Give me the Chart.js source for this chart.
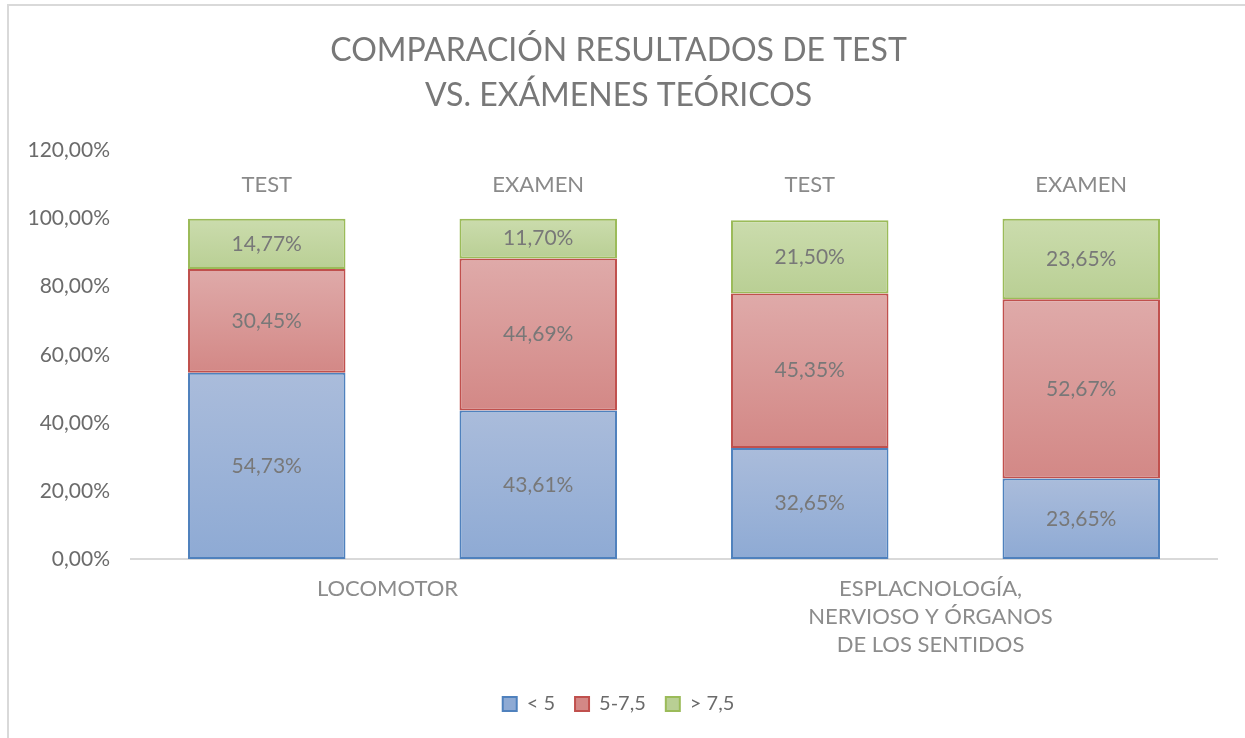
<!DOCTYPE html>
<html>
<head>
<meta charset="utf-8">
<script src="https://cdn.jsdelivr.net/npm/chart.js@4.4.1/dist/chart.umd.min.js"></script>
<style>
  html, body { margin: 0; padding: 0; background: #fff; }
  #wrap { position: relative; width: 1245px; height: 738px; }
  #frame { position: absolute; left: 7px; top: 4px; right: -5px; bottom: -5px; border-top: 2px solid #d9d9d9; border-left: 2px solid #d9d9d9; pointer-events: none; }
</style>
</head>
<body>
<div id="wrap">
  <canvas id="chart" width="1245" height="738"></canvas>
  <div id="frame"></div>
</div>
<script>
// data
const categories = ["TEST", "EXAMEN", "TEST", "EXAMEN"];
const groups = ["LOCOMOTOR", ["ESPLACNOLOGÍA,", "NERVIOSO Y ÓRGANOS", "DE LOS SENTIDOS"]];
const seriesNames = ["< 5", "5-7,5", "> 7,5"];
const bajo = [54.73, 43.61, 32.65, 23.65];
const medio = [30.45, 44.69, 45.35, 52.67];
const alto = [14.77, 11.70, 21.50, 23.65];
const yTicks = [0, 20, 40, 60, 80, 100, 120];

const FONT = "Lato, 'Open Sans', sans-serif";
const grey = "#787878";

// top/bottom gradient colours + border per series
const fills = [
  ["#aabcdb", "#8eaad4", "#4f81bd"],
  ["#dfaaa9", "#d38886", "#c0504d"],
  ["#cbdcad", "#b9cf94", "#9bbb59"]
];
const allSeries = [bajo, medio, alto];

function gradFill(i) {
  return function (ctx) {
    const chart = ctx.chart;
    const y = chart.scales && chart.scales.y;
    if (!y || ctx.dataIndex === undefined || !chart.chartArea) return fills[i][1];
    let start = 0;
    for (let k = 0; k < i; k++) start += allSeries[k][ctx.dataIndex];
    const end = start + allSeries[i][ctx.dataIndex];
    const top = y.getPixelForValue(end), bot = y.getPixelForValue(start);
    if (!isFinite(top) || !isFinite(bot) || top === bot) return fills[i][1];
    const g = chart.ctx.createLinearGradient(0, top, 0, bot);
    g.addColorStop(0, fills[i][0]);
    g.addColorStop(1, fills[i][1]);
    return g;
  };
}

const fmt = v => v.toFixed(2).replace(".", ",") + "%";

const labelPlugin = {
  id: "labels",
  afterDatasetsDraw(chart) {
    const ctx = chart.ctx;
    ctx.save();
    ctx.fillStyle = grey;
    ctx.textAlign = "center";
    ctx.textBaseline = "middle";
    ctx.font = "21px " + FONT;
    chart.data.datasets.forEach((ds, di) => {
      chart.getDatasetMeta(di).data.forEach((el, i) => {
        ctx.fillText(fmt(ds.data[i]), el.x, (el.y + el.base) / 2);
      });
    });
    // TEST / EXAMEN above each bar
    const meta = chart.getDatasetMeta(0);
    ctx.fillStyle = "#8a8a8a";
    ctx.font = "22px " + FONT;
    meta.data.forEach((el, i) => {
      ctx.fillText(categories[i], el.x, chart.scales.y.getPixelForValue(110));
    });
    ctx.restore();
  }
};

const datasets = allSeries.map((arr, i) => ({
  label: seriesNames[i],
  data: arr,
  backgroundColor: gradFill(i),
  borderColor: fills[i][2],
  borderWidth: 2,
  borderSkipped: false,
  barPercentage: 0.58,
  categoryPercentage: 1
}));

new Chart(document.getElementById("chart"), {
  type: "bar",
  data: { labels: categories, datasets: datasets },
  options: {
    responsive: false,
    animation: false,
    layout: { padding: { left: 20, right: 28, top: 0, bottom: 14 } },
    plugins: {
      title: {
        display: true,
        text: ["COMPARACIÓN RESULTADOS DE TEST", "VS. EXÁMENES TEÓRICOS"],
        color: grey,
        font: { family: FONT, size: 32, weight: "normal", lineHeight: 1.4 },
        padding: { top: 28, bottom: 33 }
      },
      legend: {
        position: "bottom",
        labels: {
          color: "#6b6b6b",
          font: { family: FONT, size: 20 },
          boxWidth: 14,
          boxHeight: 14,
          padding: 20
        }
      },
      tooltip: { enabled: false }
    },
    scales: {
      x: {
        stacked: true,
        grid: { display: false },
        border: { display: true, color: "#d9d9d9", width: 2 },
        ticks: { display: false }
      },
      x2: {
        type: "category",
        labels: groups,
        position: "bottom",
        offset: true,
        grid: { display: false, drawTicks: false },
        border: { display: false },
        ticks: { color: "#8c8c8c", font: { family: FONT, size: 22, lineHeight: 1.27 }, padding: 8, labelOffset: -15, maxRotation: 0 },
        afterFit(axis) { axis.height = 107; }
      },
      y: {
        stacked: true,
        min: 0,
        max: 120,
        afterBuildTicks(axis) { axis.ticks = yTicks.map(v => ({ value: v })); },
        grid: { display: false },
        border: { display: false },
        ticks: {
          color: "#6b6b6b",
          font: { family: FONT, size: 21 },
          padding: 13,
          callback: v => v.toFixed(2).replace(".", ",") + "%"
        },
        afterFit(axis) { axis.width = 111; }
      }
    }
  },
  plugins: [labelPlugin]
});
</script>
</body>
</html>
